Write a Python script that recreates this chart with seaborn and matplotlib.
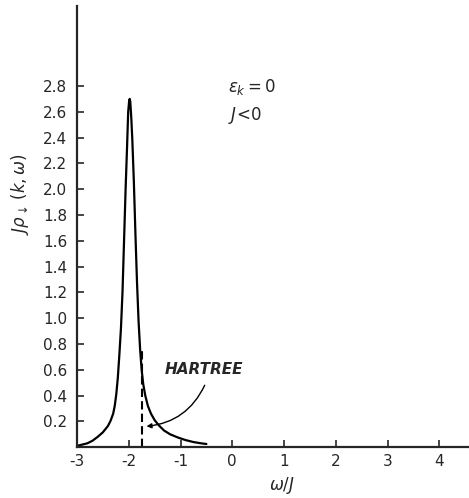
import numpy as np
import pandas as pd
import matplotlib
matplotlib.use("Agg")
import matplotlib.pyplot as plt
import seaborn as sns

# spectral function (eps_k = 0, J < 0)
omega = [-3.0, -2.9, -2.8, -2.7, -2.6, -2.5, -2.45, -2.4, -2.35, -2.3,
         -2.27, -2.24, -2.21, -2.18, -2.15, -2.12, -2.09, -2.06, -2.03, -2.01,
         -1.99, -1.98, -1.97, -1.95, -1.93, -1.9, -1.87, -1.84, -1.81, -1.78,
         -1.75, -1.72, -1.68, -1.63, -1.57, -1.5, -1.42, -1.32, -1.2, -1.05,
         -0.9, -0.75, -0.6, -0.5]
rho = [0.01, 0.02, 0.03, 0.05, 0.08, 0.115, 0.14, 0.165, 0.205, 0.26,
       0.32, 0.41, 0.54, 0.72, 0.92, 1.20, 1.60, 2.00, 2.35, 2.60,
       2.69, 2.70, 2.68, 2.55, 2.38, 2.05, 1.65, 1.28, 0.98, 0.76,
       0.60, 0.49, 0.40, 0.32, 0.26, 0.21, 0.17, 0.13, 0.10, 0.075,
       0.055, 0.04, 0.03, 0.025]

# Hartree delta position (dashed line)
hartree_x = [-1.75, -1.75]
hartree_y = [0.0, 0.78]

xticks = [-3, -2, -1, 0, 1, 2, 3, 4]
xticklabels = ["-3", "-2", "-1", "0", "1", "2", "3", "4"]
yticks = [0.2, 0.4, 0.6, 0.8, 1.0, 1.2, 1.4, 1.6, 1.8, 2.0, 2.2, 2.4, 2.6, 2.8]
yticklabels = ["0.2", "0.4", "0.6", "0.8", "1.0", "1.2", "1.4", "1.6", "1.8",
               "2.0", "2.2", "2.4", "2.6", "2.8"]

sns.set_style("ticks")
plt.rcParams["font.family"] = ["DejaVu Sans"]
plt.rcParams["mathtext.fontset"] = "dejavusans"

fig = plt.figure(figsize=(4.69, 4.98), dpi=100)
ax = fig.add_axes([0.164, 0.102, 0.836, 0.886])

df = pd.DataFrame({"omega": omega, "rho": rho})
sns.lineplot(data=df, x="omega", y="rho", ax=ax, color="black", linewidth=1.6,
             sort=False, estimator=None)
ax.plot(hartree_x, hartree_y, color="black", linewidth=1.5, linestyle=(0, (4, 2)))

ax.annotate("", xy=(-1.71, 0.16), xytext=(-0.51, 0.50),
            arrowprops=dict(arrowstyle="-|>", color="black", lw=1.0,
                            mutation_scale=7,
                            connectionstyle="arc3,rad=-0.3"))
ax.text(-1.30, 0.60, "HARTREE", fontsize=11, style="italic", fontweight="bold",
        ha="left", va="center")
ax.text(-0.09, 2.79, r"$\epsilon_k = 0$", fontsize=12, ha="left", va="center")
ax.text(-0.09, 2.57, r"$J\!<\!0$", fontsize=12, ha="left", va="center")

ax.set_xlim(-3, 4.57)
ax.set_ylim(0, 3.42)
ax.set_xticks(xticks)
ax.set_xticklabels(xticklabels)
ax.set_yticks(yticks)
ax.set_yticklabels(yticklabels)
ax.tick_params(direction="in", length=5, width=1.2, labelsize=11)
ax.tick_params(axis="y", pad=7)
ax.tick_params(axis="x", pad=5)

ax.set_xlabel(r"$\omega/J$", fontsize=12)
ax.xaxis.set_label_coords(0.523, -0.062)
ax.set_ylabel(r"$J\rho_{\downarrow}\,(k,\omega)$", fontsize=12)
ax.yaxis.set_label_coords(-0.118, 0.574)

sns.despine(ax=ax)
for s in ["left", "bottom"]:
    ax.spines[s].set_linewidth(1.6)

fig.savefig("out.png", dpi=100)
